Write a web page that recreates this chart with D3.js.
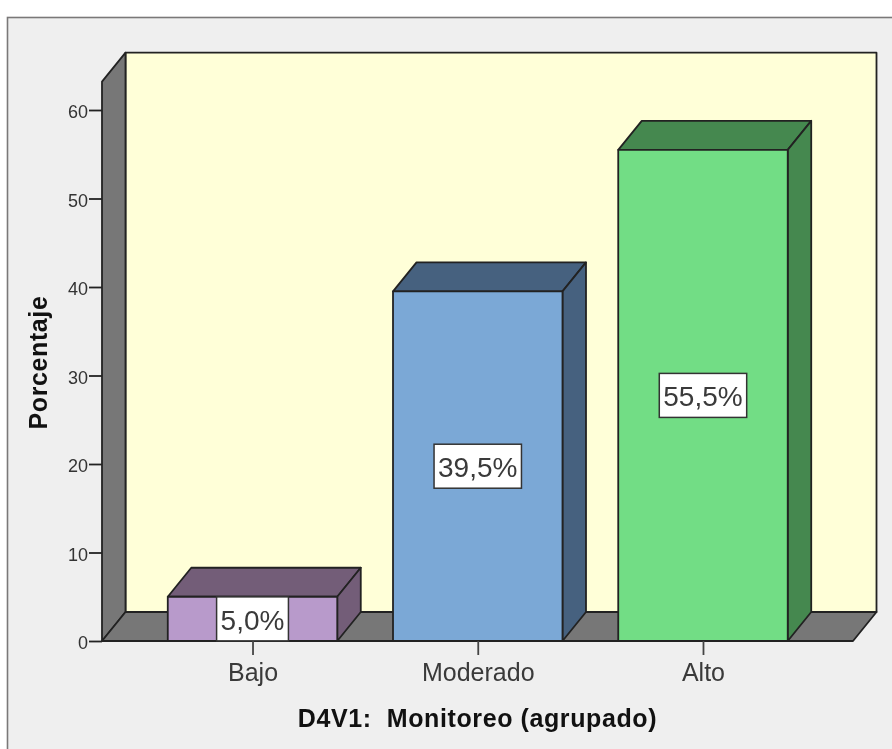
<!DOCTYPE html>
<html><head><meta charset="utf-8">
<script src="https://cdnjs.cloudflare.com/ajax/libs/d3/7.8.5/d3.min.js"></script>
<style>html,body{margin:0;padding:0;background:#fff}svg{display:block;filter:blur(.45px)}text{font-family:"Liberation Sans",Arial,sans-serif}</style>
</head><body><svg id="c" width="892" height="749"></svg>
<script>
const categories = ["Bajo","Moderado","Alto"];
const values = [5.0,39.5,55.5];
const labels = ["5,0%","39,5%","55,5%"];
const faceColors = ["#b89acb","#7ba8d6","#72dd85"];
const sideColors = ["#735d78","#46617f","#45884f"];
const yTicks = [0,10,20,30,40,50,60];
const yTitle = "Porcentaje", xTitle = "D4V1:  Monitoreo (agrupado)";

const dx = 23.5, dy = -29, ink = "#222";
const svg = d3.select("#c");
const y = d3.scaleLinear().domain([0,60]).range([641,110]);
const x = d3.scaleBand().domain(categories).range([139.9,815.6]).paddingInner(.2475).paddingOuter(.12375);
const leftX = 102, rightX = 853, topY = y(63.2), base = y(0);
const poly = (pts,fill,sw=1.8)=>svg.append("polygon").attr("points",pts.map(p=>p.join(",")).join(" "))
  .attr("fill",fill).attr("stroke",ink).attr("stroke-width",sw).attr("stroke-linejoin","round");

svg.append("rect").attr("x",7.5).attr("y",17.5).attr("width",900).attr("height",750)
  .attr("fill","#efefef").attr("stroke","#7a7878").attr("stroke-width",1.6);

poly([[leftX+dx,topY+dy],[rightX+dx,topY+dy],[rightX+dx,base+dy],[leftX+dx,base+dy]],"#ffffd8");
poly([[leftX,topY],[leftX+dx,topY+dy],[leftX+dx,base+dy],[leftX,base]],"#777777");
poly([[leftX,base],[leftX+dx,base+dy],[rightX+dx,base+dy],[rightX,base]],"#777777");

svg.append("g").selectAll("g").data(categories).join("g").each(function(c,i){
  const g = d3.select(this), x0 = x(c), x1 = x0+x.bandwidth(), y1 = y(values[i]);
  const pg = (pts,fill)=>g.append("polygon").attr("points",pts.map(p=>p.join(",")).join(" "))
    .attr("fill",fill).attr("stroke",ink).attr("stroke-width",1.8).attr("stroke-linejoin","round");
  pg([[x0,y1],[x0+dx,y1+dy],[x1+dx,y1+dy],[x1,y1]],sideColors[i]);
  pg([[x1,y1],[x1+dx,y1+dy],[x1+dx,base+dy],[x1,base]],sideColors[i]);
  pg([[x0,y1],[x1,y1],[x1,base],[x0,base]],faceColors[i]);
});

svg.append("line").attr("x1",leftX).attr("x2",rightX).attr("y1",base).attr("y2",base).attr("stroke",ink).attr("stroke-width",1.8);

svg.append("g").selectAll("g").data(categories).join("g").each(function(c,i){
  const g = d3.select(this), cx = x(c)+x.bandwidth()/2, cy = (y(values[i])+base)/2;
  const t = g.append("text").attr("x",cx).attr("y",cy+11).attr("text-anchor","middle")
    .attr("font-size",28).attr("fill","#3a3a3a").text(labels[i]);
  const w = t.node().getBBox().width;
  g.insert("rect","text").attr("x",cx-w/2-4).attr("y",cy-22).attr("width",w+8).attr("height",44)
    .attr("fill","#fff").attr("stroke","#333").attr("stroke-width",1.5);
});

const yAxis = d3.axisLeft(y).tickValues(yTicks).tickSize(13).tickPadding(1);
const ya = svg.append("g").attr("transform",`translate(${leftX},0)`).call(yAxis);
ya.select(".domain").remove();
ya.selectAll("line").attr("stroke",ink).attr("stroke-width",1.8);
ya.selectAll("text").attr("font-size",18).attr("dy",".44em").attr("fill","#333");

const xc = d3.scalePoint().domain(categories).range([x(categories[0])+x.bandwidth()/2,x(categories[2])+x.bandwidth()/2]);
const xAxis = d3.axisBottom(xc).tickSize(14).tickPadding(8);
const xa = svg.append("g").attr("transform",`translate(0,${base})`).call(xAxis);
xa.select(".domain").remove();
xa.selectAll("line").attr("stroke","#444").attr("stroke-width",1.8);
xa.selectAll("text").attr("font-size",25).attr("fill","#3a3a3a");

svg.append("text").attr("transform","translate(47,362.5) rotate(-90)").attr("text-anchor","middle")
  .attr("font-size",25).attr("letter-spacing",.6).attr("font-weight","bold").attr("fill","#111").text(yTitle);
svg.append("text").attr("x",477.5).attr("y",727).attr("text-anchor","middle").style("white-space","pre")
  .attr("font-size",25).attr("letter-spacing",.6).attr("font-weight","bold").attr("fill","#111").text(xTitle);
</script></body></html>
